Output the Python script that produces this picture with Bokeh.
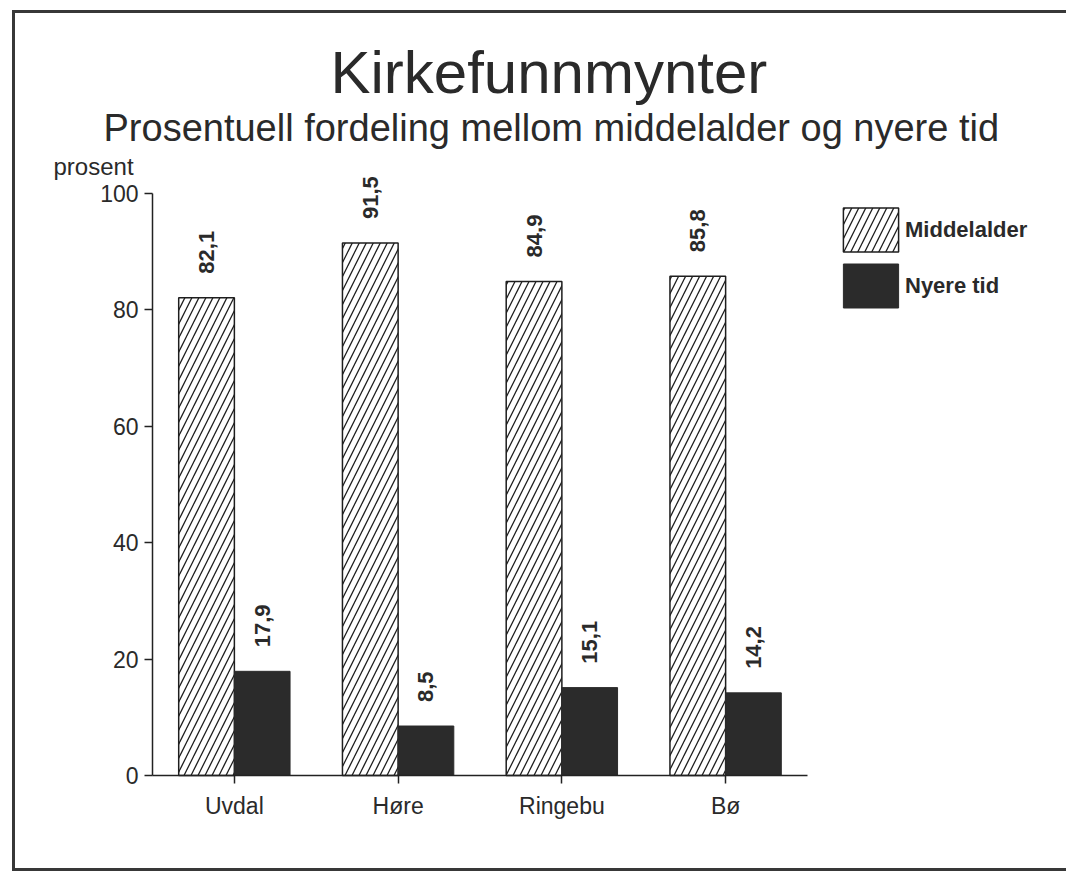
import math
from bokeh.plotting import figure
from bokeh.models import (ColumnDataSource, Range1d, Title, Legend, LegendItem,
                          LabelSet, Label, FixedTicker)
from bokeh.core.properties import value
from bokeh.transform import dodge
from bokeh.embed import file_html
from bokeh.resources import INLINE

# ---- data ----
places = ["Uvdal", "Høre", "Ringebu", "Bø"]
middelalder = [82.1, 91.5, 84.9, 85.8]
nyere_tid = [17.9, 8.5, 15.1, 14.2]
y_ticks = [0, 20, 40, 60, 80, 100]

def fmt(v):
    return f"{v:.1f}".replace(".", ",")

centers = [i + 0.5 for i in range(len(places))]
source = ColumnDataSource(data=dict(
    xc=centers,
    place=places,
    mid=middelalder,
    ny=nyere_tid,
    mid_lbl=[fmt(v) for v in middelalder],
    ny_lbl=[fmt(v) for v in nyere_tid],
))

INK = "#2a2a2a"
FONT = "Liberation Sans"
W, H = 1066, 876
LEFT, RIGHT, TOP, BOTTOM = 20, 26, 150, 16
AX = 152                 # screen x of the y axis
AY = 775                 # screen y of the x axis
cat_px = 163.75          # pixel width of one category slot
unit_px = 5.82           # pixels per percent
x_start = -(AX - LEFT) / cat_px
x_end = (W - RIGHT - AX) / cat_px
y_start = -(H - BOTTOM - AY) / unit_px
y_end = (AY - TOP) / unit_px

p = figure(width=W, height=H, x_range=Range1d(x_start, x_end),
           y_range=Range1d(y_start, y_end),
           output_backend="svg", toolbar_location=None,
           min_border_left=LEFT, min_border_right=RIGHT, min_border_top=TOP,
           min_border_bottom=BOTTOM)
line = "linear-gradient(#383838,#383838)"
p.styles = {
    "background-image": f"{line}, {line}, {line}",
    "background-size": "3px 860px, 1066px 3px, 1066px 3px",
    "background-position": "12px 10px, 12px 10px, 12px 868px",
    "background-repeat": "no-repeat",
}

p.outline_line_color = None
p.xgrid.grid_line_color = None
p.ygrid.grid_line_color = None
p.background_fill_alpha = 0
p.border_fill_alpha = 0

bw = 0.34
r_mid = p.vbar(x=dodge("xc", -bw / 2), top="mid", width=bw,
               source=source, fill_color="white", line_color="#1e1e1e",
               line_width=1.5, hatch_pattern="/", hatch_color="#1e1e1e",
               hatch_weight=1.3, hatch_scale=14)
r_ny = p.vbar(x=dodge("xc", bw / 2), top="ny", width=bw,
              source=source, fill_color="#2b2b2b", line_color="#2b2b2b",
              line_width=1)

for col, yfield, off in (("mid_lbl", "mid", -bw / 2), ("ny_lbl", "ny", bw / 2)):
    p.add_layout(LabelSet(x=dodge("xc", off), y=yfield,
                          text=col, source=source, angle=math.pi / 2,
                          y_offset=24, text_align="left", text_baseline="middle",
                          text_font=value(FONT), text_font_size="22px",
                          text_font_style="bold", text_color=INK))

# axes
for ax in (p.xaxis[0], p.yaxis[0]):
    ax.axis_line_color = "#222222"
    ax.axis_line_width = 1.5
    ax.major_tick_line_color = "#222222"
    ax.major_tick_line_width = 1.5
    ax.major_tick_in = 0
    ax.major_tick_out = 8
    ax.minor_tick_line_color = None
    ax.major_label_text_font = FONT
    ax.major_label_text_font_size = "23px"
    ax.major_label_text_color = INK

p.yaxis[0].ticker = FixedTicker(ticks=y_ticks)
p.yaxis[0].bounds = (0, 100)
p.yaxis[0].fixed_location = 0
p.yaxis[0].major_label_standoff = 6
p.xaxis[0].ticker = FixedTicker(ticks=centers)
p.xaxis[0].major_label_overrides = {c: name for c, name in zip(centers, places)}
p.xaxis[0].bounds = (0, len(places))
p.xaxis[0].fixed_location = 0
p.xaxis[0].major_label_standoff = 9

# "prosent" unit label at the top of the y axis
p.add_layout(Label(x=0, y=100, x_offset=-99, y_offset=27, text="prosent",
                   text_align="left", text_baseline="alphabetic",
                   text_font=FONT, text_font_size="24px", text_color=INK))

# legend
legend = Legend(items=[LegendItem(label="Middelalder", renderers=[r_mid]),
                       LegendItem(label="Nyere tid", renderers=[r_ny])],
                location=(816, 462 + (H - BOTTOM - AY)), glyph_width=69,
                glyph_height=55, spacing=1,
                label_standoff=0, label_text_font=FONT, label_text_font_size="22px",
                label_text_font_style="bold", label_text_color=INK,
                border_line_color=None, background_fill_alpha=0,
                padding=0, margin=0, orientation="vertical")
p.add_layout(legend, "center")

# titles (first added sits closest to the plot)
p.add_layout(Title(text="Prosentuell fordeling mellom middelalder og nyere tid",
                   align="left", offset=103 - LEFT, standoff=4, text_font=FONT,
                   text_font_size="38px", text_font_style="normal",
                   text_color=INK), "above")
p.add_layout(Title(text="Kirkefunnmynter", align="left", offset=330 - LEFT,
                   standoff=-6, text_font=FONT, text_font_size="60px",
                   text_font_style="normal", text_color=INK), "above")

open("out.html", "w").write(file_html(p, INLINE))
